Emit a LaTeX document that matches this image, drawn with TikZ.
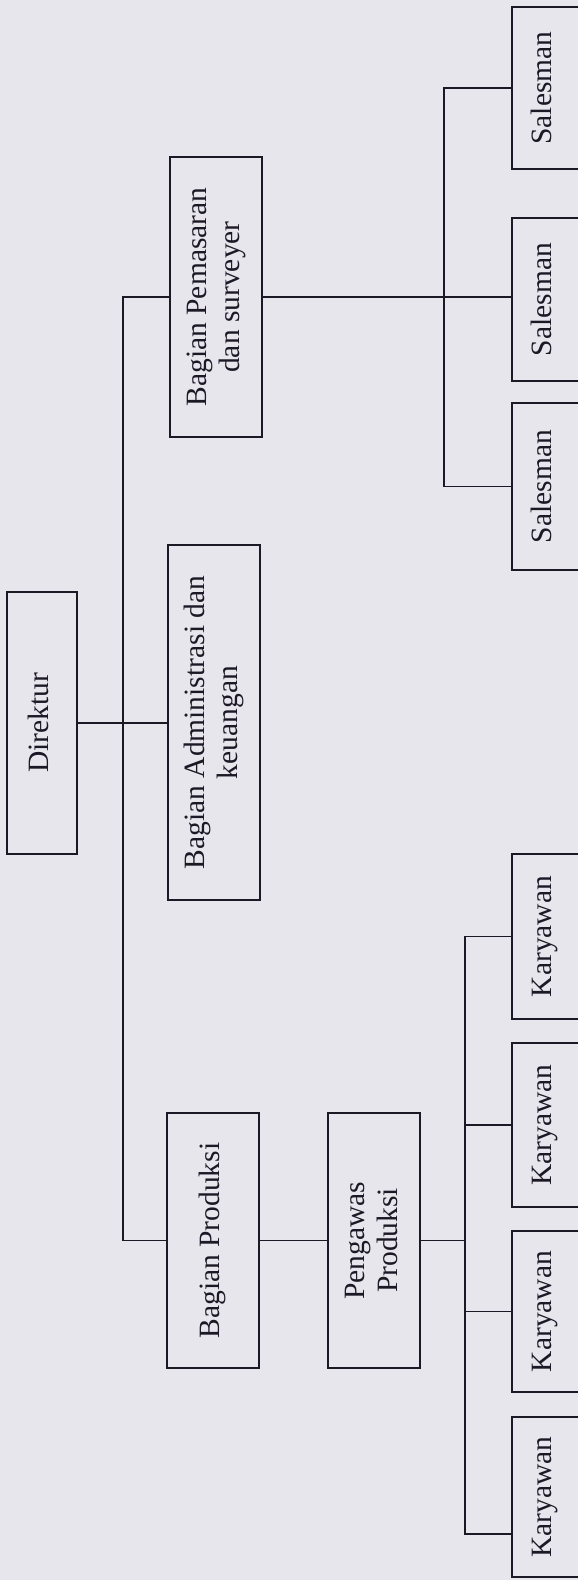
\documentclass[tikz,border=0pt]{standalone}
\usepackage{fontspec}
\setmainfont{Liberation Serif}
\usepackage{graphicx}
\definecolor{bg}{RGB}{231,230,236}
\definecolor{ink}{RGB}{28,24,38}
\tikzset{
  org/.style={draw=ink, line width=1.4pt, inner sep=0pt, text=ink,
    font=\fontsize{29.5}{33}\selectfont},
  link/.style={draw=ink, line width=1.3pt},
}
\newcommand{\rtext}[1]{\rotatebox{90}{\begin{tabular}{@{}c@{}}#1\end{tabular}}}
\begin{document}
\begin{tikzpicture}[x=1pt,y=-1pt]
\useasboundingbox (0,0) rectangle (578,1580);
\fill[bg] (0,0) rectangle (578,1580);
\clip (0,0) rectangle (578,1580);
% top levels
\node[org, minimum width=70pt, minimum height=262pt] (dir) at (42,723) {\rtext{Direktur}};
\node[org, minimum width=92pt, minimum height=355pt] (adm) at (214,722.5) {\rtext{Bagian Administrasi dan\\keuangan}};
\node[org, minimum width=92pt, minimum height=280pt] (pem) at (216,297) {\rtext{Bagian Pemasaran\\dan surveyer}};
\node[org, minimum width=92pt, minimum height=255pt] (prod) at (213,1240.5) {\rtext{Bagian Produksi}};
\node[org, minimum width=92pt, minimum height=255pt] (peng) at (374,1240.5) {\rtext{Pengawas\\Produksi}};
% salesmen
\node[org, minimum width=80pt, minimum height=162pt] (s1) at (552,88) {\rtext{Salesman}\hspace*{15pt}};
\node[org, minimum width=80pt, minimum height=163pt] (s2) at (552,299.5) {\rtext{Salesman}\hspace*{15pt}};
\node[org, minimum width=80pt, minimum height=167pt] (s3) at (552,486.5) {\rtext{Salesman}\hspace*{15pt}};
% karyawan
\node[org, minimum width=80pt, minimum height=165pt] (k1) at (552,936.5) {\rtext{Karyawan}\hspace*{15pt}};
\node[org, minimum width=80pt, minimum height=164pt] (k2) at (552,1125) {\rtext{Karyawan}\hspace*{15pt}};
\node[org, minimum width=80pt, minimum height=161pt] (k3) at (552,1311.5) {\rtext{Karyawan}\hspace*{15pt}};
\node[org, minimum width=80pt, minimum height=160pt] (k4) at (552,1497) {\rtext{Karyawan}\hspace*{15pt}};
% bus coordinates
\coordinate (mainx) at (123,0);
\coordinate (sbus) at (444,0);
\coordinate (kbus) at (465,0);
\coordinate (kb4) at (465,1534);
% connectors
\draw[link] (dir.east) -- (dir.east -| adm.west);
\draw[link] (pem.west) -| (mainx |- prod.west) -- (prod.west);
\draw[link] (pem.east) -- (pem.east -| s2.west);
\draw[link] (s1.west) -| (sbus |- s3.west) -- (s3.west);
\draw[link] (prod.east) -- (peng.west);
\draw[link] (peng.east) -- (peng.east -| kbus);
\draw[link] (k1.west) -| (kb4) -- (kb4 -| k4.west);
\draw[link] (k2.west) -- (k2.west -| kbus);
\draw[link] (k3.west) -- (k3.west -| kbus);
\end{tikzpicture}
\end{document}
